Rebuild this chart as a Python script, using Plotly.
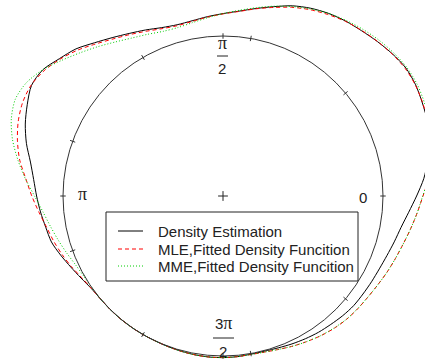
import numpy as np
import plotly.graph_objects as go

# Angular grid (degrees, counter-clockwise from 0) shared by the three curves
angle_deg = list(range(0, 360, 5))

# Curves are drawn at radius 1 + density (unit circle = zero density)
density_estimation = [
    1.21, 1.26, 1.30, 1.335, 1.36, 1.375, 1.39, 1.395, 1.382, 1.365, 1.348, 1.335,
    1.318, 1.295, 1.265, 1.225, 1.19, 1.16, 1.14, 1.125, 1.112, 1.108, 1.12, 1.145,
    1.173, 1.208, 1.25, 1.30, 1.335, 1.375, 1.382, 1.35, 1.315, 1.272, 1.222, 1.188,
    1.165, 1.145, 1.125, 1.11, 1.08, 1.05, 1.025, 1.006, 1.0, 1.0, 1.0, 1.0,
    1.0, 1.0, 1.002, 1.005, 1.008, 1.01, 1.01, 1.008, 1.004, 1.004, 1.01, 1.02,
    1.03, 1.04, 1.048, 1.058, 1.066, 1.068, 1.072, 1.078, 1.09, 1.108, 1.13, 1.165,
]
mle_fitted = [
    1.25, 1.29, 1.318, 1.345, 1.362, 1.377, 1.388, 1.39, 1.38, 1.366, 1.35, 1.333,
    1.31, 1.285, 1.255, 1.22, 1.188, 1.158, 1.138, 1.122, 1.108, 1.102, 1.113, 1.136,
    1.165, 1.198, 1.24, 1.288, 1.33, 1.365, 1.385, 1.382, 1.362, 1.33, 1.29, 1.237,
    1.195, 1.155, 1.12, 1.095, 1.07, 1.045, 1.02, 1.005, 1.0, 1.0, 1.0, 1.0,
    1.0, 1.0, 1.002, 1.005, 1.008, 1.01, 1.01, 1.008, 1.006, 1.01, 1.02, 1.035,
    1.05, 1.066, 1.08, 1.091, 1.098, 1.104, 1.115, 1.13, 1.146, 1.165, 1.19, 1.218,
]
mme_fitted = [
    1.248, 1.29, 1.325, 1.352, 1.372, 1.388, 1.40, 1.402, 1.392, 1.378, 1.36, 1.34,
    1.318, 1.29, 1.26, 1.228, 1.195, 1.165, 1.14, 1.118, 1.10, 1.09, 1.095, 1.115,
    1.14, 1.175, 1.218, 1.265, 1.318, 1.375, 1.418, 1.432, 1.408, 1.362, 1.302, 1.24,
    1.178, 1.13, 1.095, 1.066, 1.04, 1.017, 1.004, 1.0, 1.0, 1.0, 1.0, 1.0,
    1.0, 1.0, 1.002, 1.005, 1.008, 1.01, 1.01, 1.008, 1.006, 1.01, 1.02, 1.035,
    1.05, 1.065, 1.078, 1.09, 1.097, 1.104, 1.115, 1.13, 1.146, 1.165, 1.19, 1.218,
]

series_names = [
    "Density Estimation",
    "MLE,Fitted Density Funcition",
    "MME,Fitted Density Funcition",
]
series_colors = ["#000000", "#ff0000", "#00cd00"]
series_dash = ["solid", "4px,3px", "1px,2px"]

# Tick marks on the unit circle (degrees)
tick_deg = [0, 40, 80, 120, 160, 200, 240, 280, 320, 90, 180, 270]

FONT = "Liberation Sans, Arial, sans-serif"
SERIF = "Liberation Serif, Times New Roman, serif"
W, H = 425, 360
CX, CY, R = 223.0, 196.0, 160.0  # pixel centre and radius of the unit circle


def to_xy(px_x, px_y):
    """Convert a pixel location to data units."""
    return (px_x - CX) / R, (CY - px_y) / R


fig = go.Figure()

theta = np.deg2rad(np.array(angle_deg + [360]))
for vals, name, col, dash in zip(
    [density_estimation, mle_fitted, mme_fitted], series_names, series_colors, series_dash
):
    r = np.array(vals + [vals[0]])
    fig.add_trace(
        go.Scatter(
            x=r * np.cos(theta),
            y=r * np.sin(theta),
            mode="lines",
            name=name,
            line=dict(color=col, width=1, dash=dash, shape="spline", smoothing=0.8),
            showlegend=False,
            hoverinfo="skip",
        )
    )

# centre mark
fig.add_trace(
    go.Scatter(
        x=[0], y=[0], mode="markers",
        marker=dict(symbol="cross-thin", size=7, line=dict(color="#222", width=1)),
        showlegend=False, hoverinfo="skip",
    )
)

shapes = []
# unit circle
shapes.append(dict(type="circle", xref="x", yref="y", x0=-1, y0=-1, x1=1, y1=1,
                   line=dict(color="#333", width=1)))
# ticks
tl = 0.017
for d in tick_deg:
    a = np.deg2rad(d)
    shapes.append(dict(type="line", xref="x", yref="y",
                       x0=(1 - tl) * np.cos(a), y0=(1 - tl) * np.sin(a),
                       x1=(1 + tl) * np.cos(a), y1=(1 + tl) * np.sin(a),
                       line=dict(color="#333", width=1)))

annotations = []


def label(px_x, px_y, text, size=15, anchor="center"):
    x, y = to_xy(px_x, px_y)
    annotations.append(dict(x=x, y=y, xref="x", yref="y", text=text, showarrow=False,
                            xanchor=anchor, yanchor="middle",
                            font=dict(family=FONT, size=size, color="#222")))


def frac_bar(px_x0, px_x1, px_y):
    x0, y = to_xy(px_x0, px_y)
    x1, _ = to_xy(px_x1, px_y)
    shapes.append(dict(type="line", xref="x", yref="y", x0=x0, x1=x1, y0=y, y1=y,
                       line=dict(color="#222", width=1)))


PI = f"<span style='font-family:{SERIF};font-size:18px'>π</span>"
# pi/2 at the top
label(222, 43, PI)
frac_bar(217, 228, 56)
label(222, 68, "2")
# 3pi/2 at the bottom
label(223, 323, "3" + PI)
frac_bar(213, 234, 338)
label(223, 351, "2")
# pi on the left and 0 on the right
label(82, 194, PI)
label(363, 197, "0")

# legend box
bx0, by0 = to_xy(106, 281)
bx1, by1 = to_xy(358, 212)
shapes.append(dict(type="rect", xref="x", yref="y", x0=bx0, y0=by0, x1=bx1, y1=by1,
                   line=dict(color="#222", width=1), fillcolor="white", layer="above"))
rows_px = [231, 249, 266]
for py, name, col, dash in zip(rows_px, series_names, series_colors, series_dash):
    lx0, ly = to_xy(118, py)
    lx1, _ = to_xy(143, py)
    shapes.append(dict(type="line", xref="x", yref="y", x0=lx0, x1=lx1, y0=ly, y1=ly,
                       line=dict(color=col, width=1, dash=dash), layer="above"))
    label(156, py, name, size=15, anchor="left")

xr0, yr1 = to_xy(0, 0)
xr1, yr0 = to_xy(W, H)

fig.update_layout(
    width=W, height=H,
    margin=dict(l=0, r=0, t=0, b=0),
    paper_bgcolor="white", plot_bgcolor="white",
    xaxis=dict(range=[xr0, xr1], visible=False, fixedrange=True),
    yaxis=dict(range=[yr0, yr1], visible=False, fixedrange=True),
    shapes=shapes,
    annotations=annotations,
    showlegend=False,
)

fig.write_html("out.html")
